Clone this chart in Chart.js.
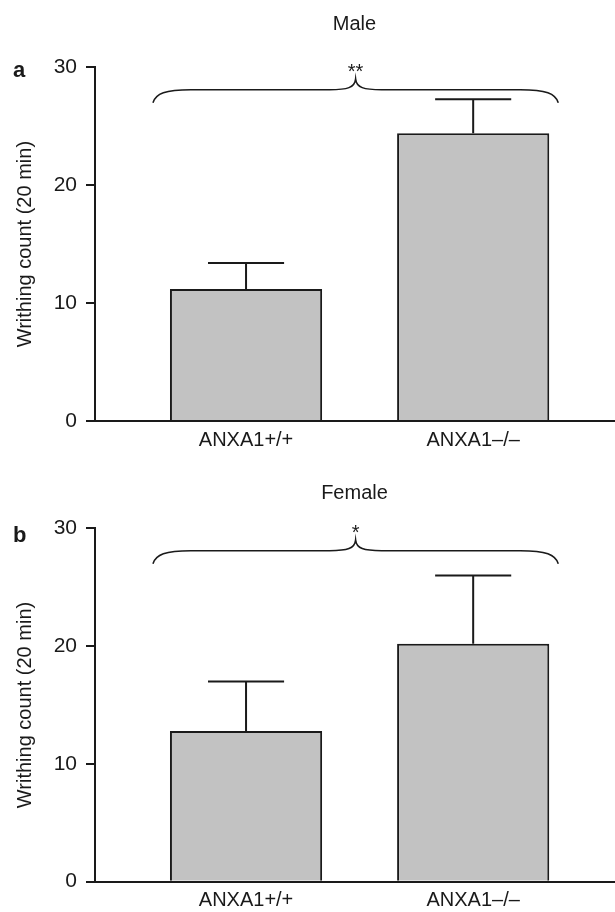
<!DOCTYPE html>
<html>
<head>
<meta charset="utf-8">
<script src="https://cdn.jsdelivr.net/npm/chart.js@4"></script>
<style>
  html, body { margin: 0; padding: 0; background: #fff; }
  .panel { position: relative; width: 615px; height: 456px; }
</style>
</head>
<body>
<div class="panel"><canvas id="male"></canvas></div>
<div class="panel"><canvas id="female"></canvas></div>
<script>
const categories = ['ANXA1+/+', 'ANXA1\u2013/\u2013'];
const maleMeans = [11.2, 24.4];
const maleErrors = [2.2, 2.9];
const femaleMeans = [12.8, 20.2];
const femaleErrors = [4.2, 5.8];
const yTicks = [0, 10, 20, 30];

const FONT = '"Liberation Sans", Arial, Helvetica, sans-serif';
const INK = '#1a1a1a';

// error bars (upper only), significance brace, stars and panel letter
function panelMarks(letter, letterY, stars, errors) {
  return {
    id: 'panelMarks',
    afterDatasetsDraw(chart) {
      const ctx = chart.ctx;
      const y = chart.scales.y;
      const bars = chart.getDatasetMeta(0).data;
      const vals = chart.data.datasets[0].data;
      ctx.save();
      ctx.strokeStyle = INK;
      ctx.lineWidth = 2;
      bars.forEach((bar, i) => {
        const top = y.getPixelForValue(vals[i].y + errors[i]);
        const half = bar.width / 4;
        ctx.beginPath();
        ctx.moveTo(bar.x, bar.y);
        ctx.lineTo(bar.x, top);
        ctx.moveTo(bar.x - half, top);
        ctx.lineTo(bar.x + half, top);
        ctx.stroke();
      });

      const first = bars[0], last = bars[bars.length - 1];
      const x1 = first.x - first.width / 2 - 17;
      const x2 = last.x + last.width / 2 + 9;
      const xc = (x1 + x2) / 2;
      const yEnd = y.getPixelForValue(27.0);
      const yMid = y.getPixelForValue(28.1);
      const yPeak = y.getPixelForValue(29.0);
      ctx.lineWidth = 1.6;
      ctx.beginPath();
      ctx.moveTo(x1, yEnd);
      ctx.bezierCurveTo(x1 + 3, yMid + 4, x1 + 12, yMid, x1 + 38, yMid);
      ctx.lineTo(xc - 26, yMid);
      ctx.bezierCurveTo(xc - 8, yMid, xc - 1, yMid - 2, xc, yPeak);
      ctx.bezierCurveTo(xc + 1, yMid - 2, xc + 8, yMid, xc + 26, yMid);
      ctx.lineTo(x2 - 38, yMid);
      ctx.bezierCurveTo(x2 - 12, yMid, x2 - 3, yMid + 4, x2, yEnd);
      ctx.stroke();

      ctx.fillStyle = INK;
      ctx.textAlign = 'center';
      ctx.textBaseline = 'alphabetic';
      ctx.font = '20px ' + FONT;
      ctx.fillText(stars, xc, y.getPixelForValue(30.0) + 11);

      ctx.textAlign = 'left';
      ctx.font = 'bold 22px ' + FONT;
      ctx.fillText(letter, 13, letterY);
      ctx.restore();
    }
  };
}

function makeChart(id, title, means, errors, letter, letterY, stars, titlePad, axisHeight) {
  return new Chart(document.getElementById(id), {
    type: 'bar',
    data: {
      datasets: [{
        data: categories.map((c, i) => ({ x: i + 1, y: means[i] })),
        backgroundColor: '#c2c2c2',
        borderColor: INK,
        borderWidth: 2,
        barPercentage: 0.67,
        categoryPercentage: 1.0,
      }],
    },
    options: {
      responsive: true,
      maintainAspectRatio: false,
      animation: false,
      layout: { padding: { left: 0, right: 1, top: 0, bottom: 0 } },
      plugins: {
        legend: { display: false },
        tooltip: { enabled: false },
        title: {
          display: true,
          fullSize: false,
          text: title,
          color: INK,
          font: { family: FONT, size: 20, weight: 'normal' },
          padding: titlePad,
        },
      },
      scales: {
        x: {
          type: 'linear',
          min: 0.335,
          max: 2.62,
          offset: false,
          afterBuildTicks: (s) => { s.ticks = categories.map((c, i) => ({ value: i + 1 })); },
          afterFit: (s) => { s.height = axisHeight; },
          grid: { display: true, drawOnChartArea: false, drawTicks: false, offset: false },
          border: { display: true, color: INK, width: 2 },
          ticks: {
            autoSkip: false,
            maxRotation: 0,
            padding: 7,
            color: INK,
            font: { family: FONT, size: 20 },
            callback: (v) => categories[v - 1] ?? '',
          },
        },
        y: {
          min: 0,
          max: 30,
          afterBuildTicks: (s) => { s.ticks = yTicks.map(v => ({ value: v })); },
          afterFit: (s) => { s.width = 95; },
          grid: { drawOnChartArea: false, drawTicks: true, tickLength: 9, color: INK, lineWidth: 2 },
          border: { display: true, color: INK, width: 2 },
          ticks: { padding: 9, color: INK, font: { family: FONT, size: 21 } },
          title: {
            display: true,
            text: 'Writhing count (20 min)',
            color: INK,
            font: { family: FONT, size: 20 },
            padding: { top: 13, bottom: 0 },
          },
        },
      },
    },
    plugins: [panelMarks(letter, letterY, stars, errors)],
  });
}

makeChart('male', 'Male', maleMeans, maleErrors, 'a', 77, '**', { top: 12, bottom: 31.3 }, 35);
makeChart('female', 'Female', femaleMeans, femaleErrors, 'b', 86, '*', { top: 25, bottom: 23.3 }, 30.3);
</script>
</body>
</html>
